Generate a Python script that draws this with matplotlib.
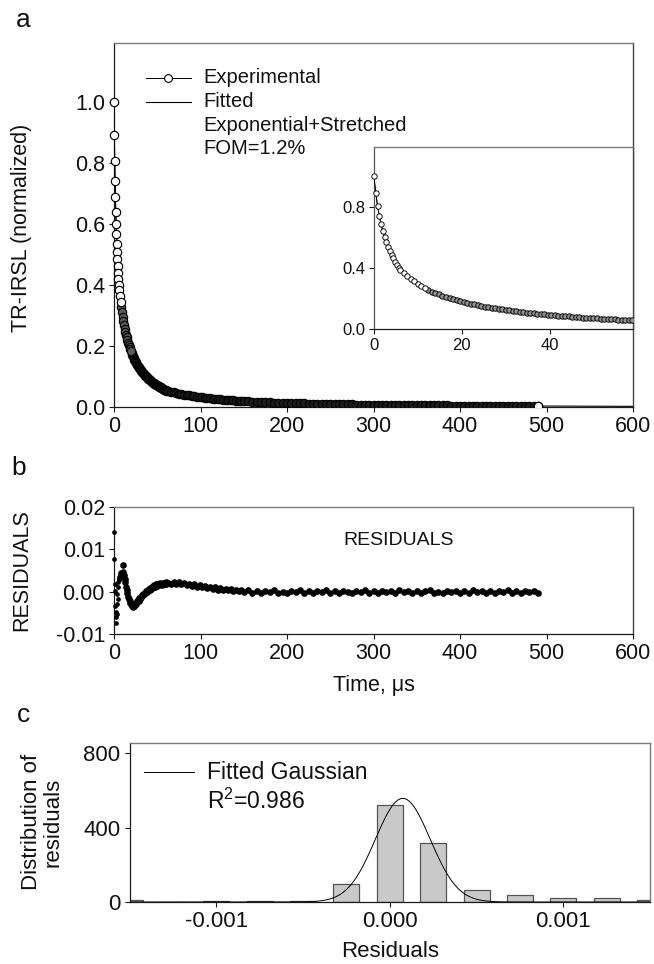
import numpy as np
import matplotlib
matplotlib.use("Agg")
import matplotlib.pyplot as plt

plt.rcParams['font.family'] = ['Liberation Sans', 'DejaVu Sans']
plt.rcParams['axes.unicode_minus'] = False
plt.rcParams['mathtext.fontset'] = 'custom'
plt.rcParams['mathtext.rm'] = 'Liberation Sans'
plt.rcParams['mathtext.it'] = 'Liberation Sans:italic'

# ---------------- data ----------------
# sampling times (us) of the experimental decay, in four segments
t_seg_a = np.linspace(0, 6, 16)
t_seg_b = np.linspace(6.8, 60.4, 68)
t_seg_c = np.linspace(63, 150, 30)
t_seg_d = np.linspace(155, 490, 68)

y_seg_a = [1.000, 0.890, 0.805, 0.740, 0.687, 0.640, 0.600, 0.566, 0.535, 0.508,
           0.484, 0.461, 0.440, 0.420, 0.401, 0.385]
y_seg_b = [0.365, 0.345, 0.328, 0.311, 0.295, 0.282, 0.270, 0.257, 0.245,
           0.236, 0.228, 0.219, 0.210, 0.202, 0.196, 0.189, 0.182,
           0.176, 0.171, 0.166, 0.161, 0.155, 0.150,
           0.146, 0.143, 0.139, 0.135, 0.131, 0.128, 0.124,
           0.121, 0.118, 0.116, 0.113, 0.110, 0.107, 0.104,
           0.102, 0.100, 0.098, 0.095, 0.093,
           0.091, 0.089, 0.087, 0.085, 0.083, 0.082, 0.080, 0.078, 0.076,
           0.075, 0.073, 0.072, 0.071, 0.069, 0.068, 0.067, 0.065, 0.064,
           0.063, 0.061, 0.060, 0.059, 0.057, 0.056, 0.055, 0.054]
y_seg_c = [0.0526, 0.0502, 0.0478, 0.0458, 0.0440, 0.0422, 0.0406, 0.0392, 0.0379, 0.0365,
           0.0352, 0.0338, 0.0325, 0.0314, 0.0305, 0.0296, 0.0287, 0.0278, 0.0269, 0.0260,
           0.0253, 0.0245, 0.0238, 0.0230, 0.0223, 0.0215, 0.0208, 0.0203, 0.0198, 0.0193]
y_seg_d = [0.0185, 0.0177, 0.0168, 0.0160, 0.0155, 0.0150, 0.0145, 0.0140, 0.0135, 0.0130,
           0.0126, 0.0123, 0.0119, 0.0116, 0.0112, 0.0109, 0.0105, 0.0102, 0.0098, 0.0095,
           0.0093, 0.0090, 0.0088, 0.0086, 0.0084, 0.0081, 0.0079, 0.0077, 0.0074, 0.0072,
           0.0071, 0.0069, 0.0068, 0.0066, 0.0065, 0.0064, 0.0062, 0.0061, 0.0059, 0.0058,
           0.0057, 0.0056, 0.0055, 0.0054, 0.0052, 0.0051, 0.0050, 0.0049, 0.0048, 0.0047,
           0.0046, 0.0045, 0.0044, 0.0043, 0.0043, 0.0042, 0.0041, 0.0040, 0.0039, 0.0038,
           0.0037, 0.0036, 0.0036, 0.0035, 0.0034, 0.0033, 0.0033, 0.0032]

# residuals at the same times
r_seg_a = [0.0142, 0.0077, 0.0018, 0.0002, -0.0035, -0.0047, -0.0060, -0.0075, -0.0052, -0.0030,
           -0.0006, -0.0018, 0.0012, 0.0022, 0.0030, 0.0028]
r_seg_b = [0.0035, 0.0040, 0.0044, 0.0038, 0.0062, 0.0046, 0.0040, 0.0030, 0.0022,
           0.0012, 0.0004, -0.0004, -0.0012, -0.0018, -0.0022, -0.0027, -0.0030,
           -0.0033, -0.0031, -0.0036, -0.0034, -0.0030, -0.0032,
           -0.0026, -0.0028, -0.0022, -0.0020, -0.0021, -0.0016, -0.0017,
           -0.0012, -0.0013, -0.0008, -0.0009, -0.0005, -0.0006, -0.0002,
           -0.0003, 0.0001, 0.0000, 0.0004, 0.0003,
           0.0006, 0.0005, 0.0009, 0.0007, 0.0011, 0.0009, 0.0013, 0.0011, 0.0016,
           0.0012, 0.0017, 0.0014, 0.0019, 0.0015, 0.0018, 0.0016, 0.0020, 0.0017,
           0.0019, 0.0016, 0.0021, 0.0018, 0.0020, 0.0017, 0.0022, 0.0018]
r_seg_c = [0.0021, 0.0018, 0.0023, 0.0019, 0.0022, 0.0017, 0.0021, 0.0016, 0.0019, 0.0014,
           0.0017, 0.0012, 0.0015, 0.0010, 0.0013, 0.0008, 0.0011, 0.0007, 0.0010, 0.0005,
           0.0008, 0.0004, 0.0007, 0.0003, 0.0006, 0.0002, 0.0005, 0.0001, 0.0004, 0.0000]
r_seg_d = [0.0003, -0.0002, 0.0001, -0.0003, 0.0002, -0.0001, 0.0003, -0.0002, 0.0000, -0.0004,
           0.0002, -0.0001, 0.0003, -0.0003, 0.0001, -0.0002, 0.0002, -0.0001, 0.0003, -0.0003,
           0.0001, -0.0002, 0.0002, 0.0000, -0.0003, 0.0002, -0.0001, 0.0003, -0.0002, 0.0001,
           -0.0003, 0.0002, -0.0001, 0.0002, -0.0002, 0.0003, -0.0001, 0.0001, -0.0003, 0.0002,
           -0.0002, 0.0001, 0.0003, -0.0002, 0.0000, -0.0003, 0.0002, -0.0001, 0.0002, -0.0002,
           0.0001, -0.0003, 0.0003, -0.0001, 0.0002, -0.0002, 0.0001, -0.0003, 0.0002, -0.0001,
           0.0003, -0.0002, 0.0001, -0.0002, 0.0002, -0.0001, 0.0001, -0.0002]

# fitted (exponential + stretched) curve, sampled
t_fit = [0, 0.4, 0.8, 1.2, 1.6, 2.0, 2.8, 3.6, 4.4, 5.6, 7.6, 10, 13.2, 17, 20, 25, 30, 36,
         40, 47.4, 58.8, 70, 80, 100, 120, 140, 170, 200, 250, 300, 350, 400, 450, 490, 550, 600]
y_fit = [0.985, 0.887, 0.808, 0.742, 0.687, 0.641, 0.566, 0.508, 0.462, 0.401, 0.345, 0.296,
         0.245, 0.204, 0.179, 0.146, 0.124, 0.103, 0.092, 0.075, 0.056, 0.047, 0.041, 0.032,
         0.026, 0.021, 0.016, 0.013, 0.0095, 0.0072, 0.0058, 0.0047, 0.0038, 0.0032, 0.0026, 0.0022]

# histogram of residuals
hist_centers = [-0.0015, -0.00125, -0.001, -0.00075, -0.0005, -0.00025, 0.0,
                0.00025, 0.0005, 0.00075, 0.001, 0.00125, 0.0015]
hist_counts = [9, 0, 6, 5, 3, 99, 521, 319, 63, 40, 22, 23, 9]
# fitted gaussian parameters
gauss_amp = 557.0
gauss_center = 0.000075
gauss_sigma = 0.000158

t_exp = np.concatenate([t_seg_a, t_seg_b, t_seg_c, t_seg_d])
y_exp = np.array(y_seg_a + y_seg_b + y_seg_c + y_seg_d)
resid = np.array(r_seg_a + r_seg_b + r_seg_c + r_seg_d)
n = min(len(t_exp), len(y_exp), len(resid))
t_exp, y_exp, resid = t_exp[:n], y_exp[:n], resid[:n]

# ---------------- figure ----------------
W, H = 654, 964
fig = plt.figure(figsize=(W / 100, H / 100), dpi=100)

def rect(l, t, r, b):
    return [l / W, 1 - b / H, (r - l) / W, (b - t) / H]

DARK = '#1a1a1a'
GRAY = '#7a7a7a'

def style(ax, tsize):
    for s in ('left', 'bottom'):
        ax.spines[s].set_color(DARK)
        ax.spines[s].set_linewidth(0.9)
    ax.spines['top'].set_color(GRAY)
    ax.spines['right'].set_color('#444444')
    ax.spines['top'].set_linewidth(1.0)
    ax.spines['right'].set_linewidth(1.0)
    ax.tick_params(direction='out', length=3.5, width=0.8, colors=DARK,
                   labelsize=tsize, top=False, right=False, pad=3)
    for lab in ax.get_xticklabels() + ax.get_yticklabels():
        lab.set_color('#111111')

early = t_exp < 8
mid = (t_exp >= 8) & (t_exp < 20)
late = t_exp >= 20

# ---- panel a ----
ax_a = fig.add_axes(rect(114, 43, 633, 407))
ax_a.plot(t_fit, y_fit, color='black', lw=0.8, zorder=2)
ax_a.plot(t_exp, y_exp, '-', color='black', lw=0.7, zorder=3)
mk = dict(ls='none', marker='o', ms=6.0, mec='black', mew=0.85, zorder=4)
ax_a.plot(t_exp[late], y_exp[late], mfc='#1c1c1c', **mk)
ax_a.plot(t_exp[mid], y_exp[mid], mfc='#5a5a5a', **mk)
ax_a.plot(t_exp[early], y_exp[early], mfc='white', clip_on=False, **mk)
ax_a.plot(t_exp[-1:], y_exp[-1:], mfc='white', **mk)
ax_a.set_xlim(0, 600)
ax_a.set_ylim(0, 1.193)
ax_a.set_xticks([0, 100, 200, 300, 400, 500, 600])
ax_a.set_yticks([0.0, 0.2, 0.4, 0.6, 0.8, 1.0])
ax_a.set_yticklabels(['0.0', '0.2', '0.4', '0.6', '0.8', '1.0'])
style(ax_a, 15.5)

# legend of panel a
lx0, lx1, lxc, tx = 0.0617, 0.148, 0.104, 0.1715
ax_a.plot([lx0, lx1], [0.904, 0.904], color='black', lw=0.7, transform=ax_a.transAxes)
ax_a.plot([lxc], [0.904], 'o', ms=5.6, mfc='white', mec='black', mew=0.8,
          transform=ax_a.transAxes)
ax_a.plot([lx0, lx1], [0.838, 0.838], color='black', lw=0.8, transform=ax_a.transAxes)
for yy, txt in [(0.904, 'Experimental'), (0.838, 'Fitted'),
                (0.772, 'Exponential+Stretched'), (0.709, 'FOM=1.2%')]:
    ax_a.text(tx, yy, txt, transform=ax_a.transAxes, fontsize=14.5,
              va='center', ha='left', color='#111111')

# ---- inset ----
ax_i = fig.add_axes(rect(374, 147, 633, 329))
ax_i.set_facecolor('white')
ax_i.plot(t_fit, y_fit, color='black', lw=0.7, zorder=2)
ax_i.plot(t_exp, y_exp, '-', color='black', lw=0.6, zorder=3)
mki = dict(ls='none', marker='o', ms=3.9, mec='black', mew=0.65, zorder=4)
inset_rest = (t_exp >= 12) & (t_exp <= 59.5)
inset_first = t_exp < 12
ax_i.plot(t_exp[inset_rest], y_exp[inset_rest], mfc='#939393', **mki)
ax_i.plot(t_exp[inset_first], y_exp[inset_first], mfc='white', clip_on=False, **mki)
ax_i.set_xlim(0, 59)
ax_i.set_ylim(0, 1.19)
ax_i.set_xticks([0, 20, 40])
ax_i.set_yticks([0.0, 0.4, 0.8])
ax_i.set_yticklabels(['0.0', '0.4', '0.8'])
style(ax_i, 12)
ax_i.spines['left'].set_color('#555555')

# ---- panel b ----
ax_b = fig.add_axes(rect(114, 507, 633, 634))
ax_b.plot(t_exp[t_exp < 6.5], resid[t_exp < 6.5], 'o', color='black', ms=3.4, mew=0,
          zorder=3, clip_on=False)
ax_b.plot(t_exp[t_exp >= 6.5], resid[t_exp >= 6.5], 'o', color='black', ms=4.8, mew=0,
          zorder=3, clip_on=False)
ax_b.set_xlim(0, 600)
ax_b.set_ylim(-0.01, 0.02)
ax_b.set_xticks([0, 100, 200, 300, 400, 500, 600])
ax_b.set_yticks([-0.01, 0.0, 0.01, 0.02])
ax_b.set_yticklabels(['-0.01', '0.00', '0.01', '0.02'])
style(ax_b, 15.5)
ax_b.text(0.549, 0.74, 'RESIDUALS', transform=ax_b.transAxes, fontsize=14,
          ha='center', va='center', color='#111111')

# ---- panel c ----
ax_c = fig.add_axes(rect(129.6, 743, 650, 902))
ax_c.bar(hist_centers, hist_counts, width=0.00015, color='#c9c9c9',
         edgecolor='#555555', linewidth=0.9, zorder=2)
xg = np.linspace(-0.0015, 0.0015, 500)
ax_c.plot(xg, gauss_amp * np.exp(-0.5 * ((xg - gauss_center) / gauss_sigma) ** 2),
          color='black', lw=0.7, zorder=3)
ax_c.set_xlim(-0.0015, 0.0015)
ax_c.set_ylim(0, 855)
ax_c.set_xticks([-0.001, 0.0, 0.001])
ax_c.set_xticklabels(['-0.001', '0.000', '0.001'])
ax_c.set_yticks([0, 400, 800])
style(ax_c, 16)
ax_c.spines['right'].set_color(GRAY)
ax_c.plot([0.0277, 0.124], [0.816, 0.816], color='black', lw=0.7,
          transform=ax_c.transAxes)
ax_c.text(0.149, 0.816, 'Fitted Gaussian', transform=ax_c.transAxes, fontsize=16.5,
          va='center', ha='left', color='#111111')
ax_c.text(0.149, 0.634, 'R$^{2}$=0.986', transform=ax_c.transAxes, fontsize=16.5,
          va='center', ha='left', color='#111111')

# ---- labels ----
def ftext(x, y, s, **kw):
    fig.text(x / W, 1 - y / H, s, color='#111111', **kw)

ftext(23, 20, 'a', fontsize=19, ha='center', va='center')
ftext(19, 468, 'b', fontsize=19, ha='center', va='center')
ftext(23, 715, 'c', fontsize=19, ha='center', va='center')
ftext(22, 228, 'TR-IRSL (normalized)', fontsize=15.5, rotation=90, ha='center', va='center')
ftext(22, 570, 'RESIDUALS', fontsize=15.5, rotation=90, ha='center', va='center')
ftext(374, 686, 'Time, μs', fontsize=15.5, ha='center', va='center')
ftext(42, 822, 'Distribution of\nresiduals', fontsize=16, rotation=90, ha='center',
      va='center', linespacing=1.0)
ftext(390, 957, 'Residuals', fontsize=16, ha='center', va='baseline')

fig.savefig('out.png', dpi=100)
